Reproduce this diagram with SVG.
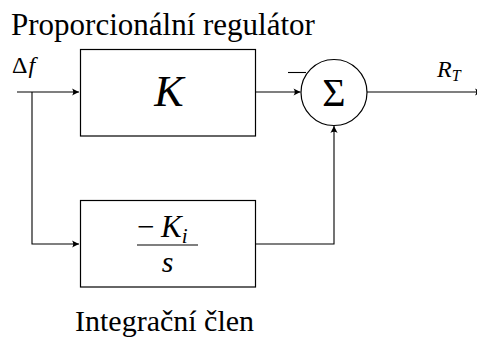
<svg xmlns="http://www.w3.org/2000/svg" width="477" height="338" viewBox="0 0 477 338">
<defs>
<marker id="arr" markerWidth="9" markerHeight="8" refX="8" refY="4" markerUnits="userSpaceOnUse" orient="auto">
<path d="M8,4 L1,0.4 Q3.5,4 1,7.6 Z" fill="#000"/>
</marker>
</defs>
<rect width="477" height="338" fill="#fff"/>
<text x="11" y="35" font-size="31" style="font-family:'Liberation Serif',serif">Proporcionální regulátor</text>
<text x="75" y="331" font-size="30" style="font-family:'Liberation Serif',serif">Integrační člen</text>
<g id="connectors" fill="none" stroke="#000" stroke-width="1.1">
<path d="M17,92 H79" marker-end="url(#arr)"/>
<path d="M32,92 V244 H79" marker-end="url(#arr)"/>
<path d="M256,92 H300.5" marker-end="url(#arr)"/>
<path d="M256,244 H334 V126" marker-end="url(#arr)"/>
<path d="M367,92 H482" marker-end="url(#arr)"/>
<path d="M288,72.5 H306"/>
</g>
<g id="input-label">
<text x="12" y="73" font-size="24" style="font-family:'Liberation Serif',serif">Δ<tspan font-style="italic" dx="1">f</tspan></text>
</g>
<g id="output-label">
<text x="437" y="77" font-size="24" font-style="italic" style="font-family:'Liberation Serif',serif">R<tspan font-size="16" dy="4">T</tspan></text>
</g>
<g id="node-K">
<rect x="80.5" y="49.5" width="175" height="86.5" fill="#fff" stroke="#000" stroke-width="1.2"/>
<text x="169" y="106" font-size="44" font-style="italic" text-anchor="middle" style="font-family:'Liberation Serif',serif">K</text>
</g>
<g id="node-sum">
<circle cx="334" cy="92.5" r="33" fill="#fff" stroke="#000" stroke-width="1.2"/>
<text x="334" y="106" font-size="40" text-anchor="middle" style="font-family:'Liberation Serif',serif">Σ</text>
</g>
<g id="node-integrator">
<rect x="80.5" y="200.5" width="175" height="86.5" fill="#fff" stroke="#000" stroke-width="1.2"/>
<text x="137" y="237" font-size="31" style="font-family:'Liberation Serif',serif">−</text>
<text x="161" y="237" font-size="31" font-style="italic" style="font-family:'Liberation Serif',serif">K<tspan font-size="21" dy="6">i</tspan></text>
<line x1="137" y1="245" x2="198" y2="245" stroke="#000" stroke-width="1.2"/>
<text x="167.5" y="272" font-size="30" font-style="italic" text-anchor="middle" style="font-family:'Liberation Serif',serif">s</text>
</g>
</svg>
